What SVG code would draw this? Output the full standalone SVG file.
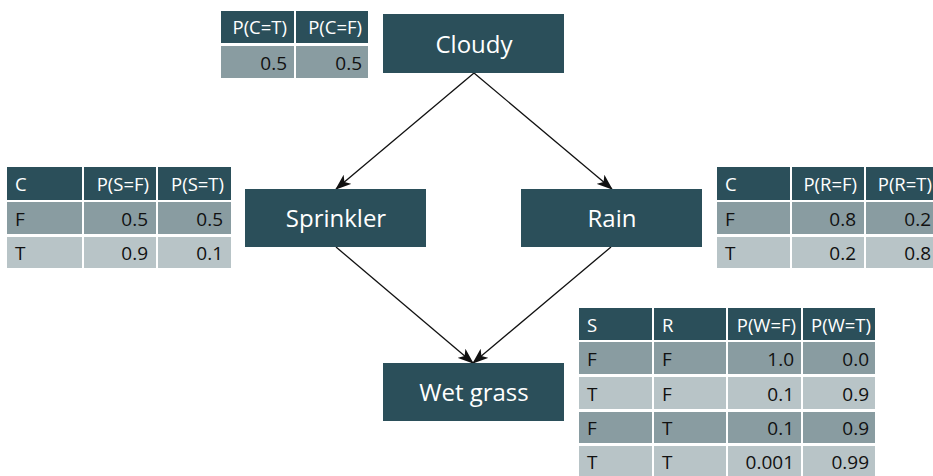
<svg xmlns="http://www.w3.org/2000/svg" width="933" height="476" viewBox="0 0 933 476">
<style>
.node{fill:#2b4f5a}
.nt{font-family:"Open Sans","Noto Sans",sans-serif;font-size:24px;fill:#ffffff;text-anchor:middle}
.h{fill:#2b4f5a}
.d{fill:#899ca1}
.l{fill:#b8c4c7}
.ht{font-family:"Open Sans","Noto Sans",sans-serif;font-size:18.5px;fill:#ffffff}
.dt{font-family:"Open Sans","Noto Sans",sans-serif;font-size:19px;fill:#111111}
.r{text-anchor:end}
.edge{stroke:#111;stroke-width:1.3;fill:none;marker-end:url(#ah)}
</style>
<defs>
<marker id="ah" viewBox="0 0 16 12" refX="15" refY="6" markerWidth="16" markerHeight="12" markerUnits="userSpaceOnUse" orient="auto">
<path d="M0,0 L16,6 L0,12 L4,6 Z" fill="#111"/>
</marker>
</defs>
<rect width="933" height="476" fill="#ffffff"/>
<g id="connectors">
<line class="edge" x1="474" y1="73" x2="336" y2="189"/>
<line class="edge" x1="474" y1="73" x2="612" y2="189"/>
<line class="edge" x1="336" y1="247" x2="473" y2="363"/>
<line class="edge" x1="611" y1="247" x2="473" y2="363"/>
</g>
<g id="cloudy">
<rect class="node" x="383" y="14" width="181" height="59"/>
<text class="nt" x="474" y="53">Cloudy</text>
</g>
<g id="sprinkler">
<rect class="node" x="245" y="189" width="181" height="58"/>
<text class="nt" x="336" y="227">Sprinkler</text>
</g>
<g id="rain">
<rect class="node" x="521" y="189" width="181" height="58"/>
<text class="nt" x="612" y="227">Rain</text>
</g>
<g id="wetgrass">
<rect class="node" x="383" y="363" width="181" height="58"/>
<text class="nt" x="474" y="401">Wet grass</text>
</g>
<g id="cpt-cloudy">
<rect class="h" x="221" y="11" width="73" height="32"/>
<rect class="h" x="296" y="11" width="72" height="32"/>
<rect class="d" x="221" y="46" width="73" height="32"/>
<rect class="d" x="296" y="46" width="72" height="32"/>
<text class="ht r" x="287" y="34">P(C=T)</text>
<text class="ht r" x="362" y="34">P(C=F)</text>
<text class="dt r" x="287" y="70">0.5</text>
<text class="dt r" x="362" y="70">0.5</text>
</g>
<g id="cpt-sprinkler">
<rect class="h" x="7" y="167" width="75" height="33"/>
<rect class="h" x="84" y="167" width="72" height="33"/>
<rect class="h" x="158" y="167" width="73" height="33"/>
<rect class="d" x="7" y="202" width="75" height="32"/>
<rect class="d" x="84" y="202" width="72" height="32"/>
<rect class="d" x="158" y="202" width="73" height="32"/>
<rect class="l" x="7" y="237" width="75" height="31"/>
<rect class="l" x="84" y="237" width="72" height="31"/>
<rect class="l" x="158" y="237" width="73" height="31"/>
<text class="ht" x="15" y="191">C</text>
<text class="ht r" x="149" y="191">P(S=F)</text>
<text class="ht r" x="224" y="191">P(S=T)</text>
<text class="dt" x="15" y="226">F</text>
<text class="dt r" x="148" y="226">0.5</text>
<text class="dt r" x="223" y="226">0.5</text>
<text class="dt" x="15" y="260">T</text>
<text class="dt r" x="148" y="260">0.9</text>
<text class="dt r" x="223" y="260">0.1</text>
</g>
<g id="cpt-rain">
<rect class="h" x="717" y="167" width="73" height="33"/>
<rect class="h" x="792" y="167" width="72" height="33"/>
<rect class="h" x="866" y="167" width="73" height="33"/>
<rect class="d" x="717" y="202" width="73" height="32"/>
<rect class="d" x="792" y="202" width="72" height="32"/>
<rect class="d" x="866" y="202" width="73" height="32"/>
<rect class="l" x="717" y="237" width="73" height="31"/>
<rect class="l" x="792" y="237" width="72" height="31"/>
<rect class="l" x="866" y="237" width="73" height="31"/>
<text class="ht" x="725" y="191">C</text>
<text class="ht r" x="857" y="191">P(R=F)</text>
<text class="ht r" x="932" y="191">P(R=T)</text>
<text class="dt" x="725" y="226">F</text>
<text class="dt r" x="856" y="226">0.8</text>
<text class="dt r" x="931" y="226">0.2</text>
<text class="dt" x="725" y="260">T</text>
<text class="dt r" x="856" y="260">0.2</text>
<text class="dt r" x="931" y="260">0.8</text>
</g>
<g id="cpt-wetgrass">
<rect class="h" x="579" y="308" width="73" height="32"/>
<rect class="h" x="654" y="308" width="72" height="32"/>
<rect class="h" x="728" y="308" width="73" height="32"/>
<rect class="h" x="803" y="308" width="72" height="32"/>
<rect class="d" x="579" y="342" width="73" height="32"/>
<rect class="d" x="654" y="342" width="72" height="32"/>
<rect class="d" x="728" y="342" width="73" height="32"/>
<rect class="d" x="803" y="342" width="72" height="32"/>
<rect class="l" x="579" y="377" width="73" height="32"/>
<rect class="l" x="654" y="377" width="72" height="32"/>
<rect class="l" x="728" y="377" width="73" height="32"/>
<rect class="l" x="803" y="377" width="72" height="32"/>
<rect class="d" x="579" y="412" width="73" height="31"/>
<rect class="d" x="654" y="412" width="72" height="31"/>
<rect class="d" x="728" y="412" width="73" height="31"/>
<rect class="d" x="803" y="412" width="72" height="31"/>
<rect class="l" x="579" y="446" width="73" height="30"/>
<rect class="l" x="654" y="446" width="72" height="30"/>
<rect class="l" x="728" y="446" width="73" height="30"/>
<rect class="l" x="803" y="446" width="72" height="30"/>
<text class="ht" x="587" y="332">S</text>
<text class="ht" x="662" y="332">R</text>
<text class="ht r" x="796" y="332">P(W=F)</text>
<text class="ht r" x="871" y="332">P(W=T)</text>
<text class="dt" x="587" y="366">F</text>
<text class="dt" x="662" y="366">F</text>
<text class="dt r" x="794" y="366">1.0</text>
<text class="dt r" x="869" y="366">0.0</text>
<text class="dt" x="587" y="401">T</text>
<text class="dt" x="662" y="401">F</text>
<text class="dt r" x="794" y="401">0.1</text>
<text class="dt r" x="869" y="401">0.9</text>
<text class="dt" x="587" y="435">F</text>
<text class="dt" x="662" y="435">T</text>
<text class="dt r" x="794" y="435">0.1</text>
<text class="dt r" x="869" y="435">0.9</text>
<text class="dt" x="587" y="469">T</text>
<text class="dt" x="662" y="469">T</text>
<text class="dt r" x="794" y="469">0.001</text>
<text class="dt r" x="869" y="469">0.99</text>
</g>
</svg>
